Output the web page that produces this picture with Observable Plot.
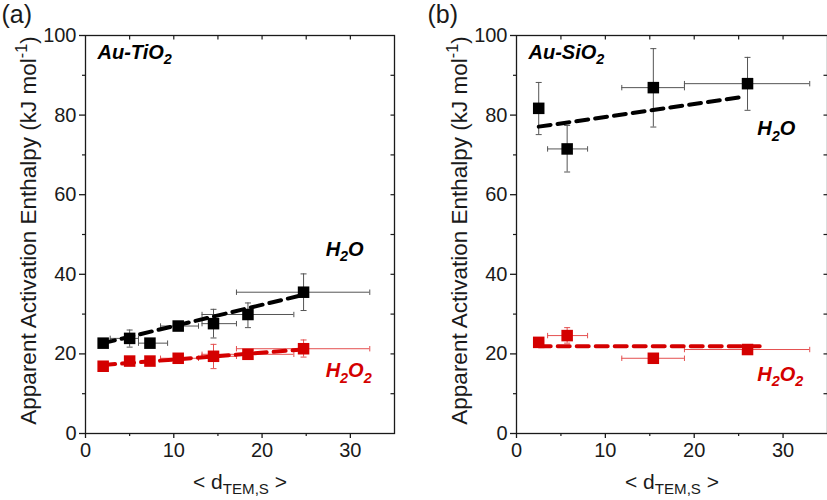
<!DOCTYPE html>
<html><head><meta charset="utf-8">
<script src="https://cdn.jsdelivr.net/npm/d3@7"></script>
<script src="https://cdn.jsdelivr.net/npm/@observablehq/plot@0.6"></script>
<style>
body{margin:0;background:#fff}
#c{display:flex;width:827px;height:500px;overflow:hidden}
#c svg{overflow:visible;flex:none}
#c text{white-space:pre}
</style>
</head><body><div id="c"></div>
<script>
// ---------- data ----------
// Panel (a) Au-TiO2
const tiH2O_d    = [2.0, 5.0, 7.3, 10.5, 14.5, 18.4, 24.7];
const tiH2O_dLo  = [2.0, 2.8, 6.0, 8.5, 13.2, 13.2, 17.1];
const tiH2O_dHi  = [2.0, 6.0, 9.3, 12.8, 17.1, 23.6, 32.2];
const tiH2O_E    = [22.7, 23.9, 22.7, 27.0, 27.6, 29.9, 35.5];
const tiH2O_ELo  = [22.7, 21.7, 22.7, 26.4, 24.0, 26.6, 30.9];
const tiH2O_EHi  = [22.7, 26.0, 22.7, 27.6, 31.2, 32.8, 40.1];
const tiH2O_fitD = [2.0, 24.6];
const tiH2O_fitE = [22.7, 34.8];

const tiH2O2_d   = [2.0, 5.0, 7.3, 10.5, 14.5, 18.4, 24.7];
const tiH2O2_dLo = [2.0, 5.0, 7.3, 8.5, 13.2, 13.2, 17.1];
const tiH2O2_dHi = [2.0, 5.0, 7.3, 12.8, 17.1, 23.6, 32.2];
const tiH2O2_E   = [16.9, 18.2, 18.2, 18.9, 19.4, 19.9, 21.3];
const tiH2O2_ELo = [16.9, 18.2, 18.2, 18.9, 16.3, 19.9, 19.2];
const tiH2O2_EHi = [16.9, 18.2, 18.2, 18.9, 22.4, 19.9, 23.5];
const tiH2O2_fitD = [2.0, 24.6];
const tiH2O2_fitE = [17.2, 21.1];

// Panel (b) Au-SiO2
const siH2O_d    = [2.5, 5.7, 15.4, 26.0];
const siH2O_dLo  = [2.5, 3.5, 11.85, 18.9];
const siH2O_dHi  = [2.5, 8.0, 18.9, 33.0];
const siH2O_E    = [81.7, 71.5, 86.9, 87.9];
const siH2O_ELo  = [75.1, 65.7, 77.0, 81.2];
const siH2O_EHi  = [88.2, 77.4, 96.7, 94.5];
const siH2O_fitD = [2.5, 25.5];
const siH2O_fitE = [77.1, 84.6];

const siH2O2_d   = [2.5, 5.7, 15.4, 26.0];
const siH2O2_dLo = [2.5, 3.5, 11.85, 18.9];
const siH2O2_dHi = [2.5, 8.0, 18.9, 33.0];
const siH2O2_E   = [22.9, 24.6, 18.9, 21.1];
const siH2O2_ELo = [22.9, 22.7, 18.9, 21.1];
const siH2O2_EHi = [22.9, 26.6, 18.9, 21.1];
const siH2O2_fitD = [2.5, 27.7];
const siH2O2_fitE = [21.9, 21.9];

// axes
const xDomain = [0, 35];
const yDomain = [0, 100];
const xMajor = [0, 10, 20, 30];
const xMinor = [5, 15, 25];
const xTop = [5, 10, 15, 20, 25, 30];
const yMajor = [0, 20, 40, 60, 80, 100];
const yMinor = [10, 30, 50, 70, 90];
const yRight = [10, 20, 30, 40, 50, 60, 70, 80, 90];
const yLabel = "Apparent Activation Enthalpy (kJ mol^{-1})";
const xLabel = "< d_{TEM,S} >";

// ---------- helpers ----------
const BLACK = "#000000", BLACK_ERR = "#555555";
const RED = "#d40000", RED_ERR = "#e45050";
const FONT = "'Liberation Sans', Arial, Helvetica, sans-serif";

function rows(d, dLo, dHi, E, ELo, EHi) {
  return d.map((v, i) => ({d: v, dLo: dLo[i], dHi: dHi[i], E: E[i], ELo: ELo[i], EHi: EHi[i]}));
}
function fitRows(d, E) { return d.map((v, i) => ({d: v, E: E[i]})); }

const hCap = {draw(ctx) { ctx.moveTo(-3, 0); ctx.lineTo(3, 0); }};
const vCap = {draw(ctx) { ctx.moveTo(0, -2.7); ctx.lineTo(0, 2.7); }};
const tickDown = {draw(ctx) { ctx.moveTo(0, 0); ctx.lineTo(0, 4); }};
const tickLeftIn = {draw(ctx) { ctx.moveTo(0, 0); ctx.lineTo(-4, 0); }};

function seriesMarks(data, fit, color, errColor) {
  return [
    Plot.ruleX(data, {x: "d", y1: "ELo", y2: "EHi", stroke: errColor, strokeWidth: 1}),
    Plot.ruleY(data, {y: "E", x1: "dLo", x2: "dHi", stroke: errColor, strokeWidth: 1}),
    Plot.dot(data, {x: "d", y: "ELo", symbol: hCap, stroke: errColor, fill: "none", strokeWidth: 1}),
    Plot.dot(data, {x: "d", y: "EHi", symbol: hCap, stroke: errColor, fill: "none", strokeWidth: 1}),
    Plot.dot(data, {x: "dLo", y: "E", symbol: vCap, stroke: errColor, fill: "none", strokeWidth: 1}),
    Plot.dot(data, {x: "dHi", y: "E", symbol: vCap, stroke: errColor, fill: "none", strokeWidth: 1}),
    Plot.line(fit, {x: "d", y: "E", stroke: color, strokeWidth: 4, strokeDasharray: "12,7"}),
    Plot.dot(data, {x: "d", y: "E", symbol: "square", r: 6.5, fill: color, stroke: "none"})
  ];
}

function panel({width, marginLeft, marginRight, tag, tagDx, name, series, labels}) {
  return Plot.plot({
    width, height: 500,
    marginTop: 35, marginBottom: 67, marginLeft, marginRight,
    x: {domain: xDomain},
    y: {domain: yDomain},
    style: {fontFamily: FONT, fontSize: "20px", color: "#1a1a1a", background: "transparent"},
    marks: [
      Plot.frame({stroke: "#1a1a1a", strokeWidth: 1.3}),
      Plot.axisX({ticks: xMajor, tickSize: 5, tickPadding: 4, label: null, strokeWidth: 1.3}),
      Plot.axisX({ticks: xMinor, tickSize: 3, tickFormat: () => "", label: null, strokeWidth: 1.2}),
      Plot.axisY({ticks: yMajor, tickSize: 6, tickPadding: 3, label: null, strokeWidth: 1.3}),
      Plot.axisY({ticks: yMinor, tickSize: 3, tickFormat: () => "", label: null, strokeWidth: 1.2}),
      Plot.dot(xTop, {x: d => d, frameAnchor: "top", symbol: tickDown, stroke: "#1a1a1a", fill: "none", strokeWidth: 1.2}),
      Plot.dot(yRight, {y: d => d, frameAnchor: "right", symbol: tickLeftIn, stroke: "#1a1a1a", fill: "none", strokeWidth: 1.2}),
      ...series,
      Plot.text([name], {frameAnchor: "top-left", text: d => d, textAnchor: "start", lineAnchor: "bottom", dx: 12, dy: 23, fontSize: 20, fontWeight: "bold", fontStyle: "italic", fill: "#000"}),
      ...labels.map(l => Plot.text([l.t], {x: () => l.x, y: () => l.y, text: d => d, textAnchor: "start", lineAnchor: "bottom", fontSize: 20, fontWeight: "bold", fontStyle: "italic", fill: l.c})),
      Plot.text([yLabel], {frameAnchor: "left", text: d => d, rotate: -90, textAnchor: "middle", lineAnchor: "middle", dx: -57, dy: -4, fontSize: 22.5, fill: "#1a1a1a"}),
      Plot.text([xLabel], {frameAnchor: "bottom", text: d => d, textAnchor: "middle", lineAnchor: "bottom", dy: 55, fontSize: 21, fill: "#1a1a1a"}),
      Plot.text([tag], {frameAnchor: "top-left", text: d => d, textAnchor: "start", lineAnchor: "bottom", dx: tagDx, dy: -13, fontSize: 25, fill: "#1a1a1a"})
    ]
  });
}

function richify(svg) {
  d3.select(svg).selectAll("text").each(function() {
    const el = this;
    const s = el.textContent;
    if (!/[_^]\{/.test(s) || el.querySelector("tspan")) return;
    const fs = parseFloat(getComputedStyle(el).fontSize) || 20;
    const parts = s.split(/(_\{[^}]*\}|\^\{[^}]*\})/).filter(p => p.length);
    el.textContent = "";
    let shift = 0;
    for (const p of parts) {
      const ts = document.createElementNS("http://www.w3.org/2000/svg", "tspan");
      let target = 0, txt = p;
      if (p.startsWith("_{")) { target = 0.28 * fs; txt = p.slice(2, -1); ts.setAttribute("font-size", (0.72 * fs).toFixed(1)); }
      else if (p.startsWith("^{")) { target = -0.4 * fs; txt = p.slice(2, -1); ts.setAttribute("font-size", (0.72 * fs).toFixed(1)); }
      ts.setAttribute("dy", (target - shift).toFixed(2));
      shift = target;
      ts.textContent = txt;
      el.appendChild(ts);
    }
  });
}

const container = document.getElementById("c");

const svgA = panel({
  width: 430, marginLeft: 85, marginRight: 36, tag: "(a)", tagDx: -84, name: "Au-TiO_{2}",
  series: [
    ...seriesMarks(rows(tiH2O_d, tiH2O_dLo, tiH2O_dHi, tiH2O_E, tiH2O_ELo, tiH2O_EHi), fitRows(tiH2O_fitD, tiH2O_fitE), BLACK, BLACK_ERR),
    ...seriesMarks(rows(tiH2O2_d, tiH2O2_dLo, tiH2O2_dHi, tiH2O2_E, tiH2O2_ELo, tiH2O2_EHi), fitRows(tiH2O2_fitD, tiH2O2_fitE), RED, RED_ERR)
  ],
  labels: [
    {t: "H_{2}O", x: 27.2, y: 44.7, c: "#000"},
    {t: "H_{2}O_{2}", x: 27.2, y: 14.1, c: RED}
  ]
});
const svgB = panel({
  width: 397, marginLeft: 86, marginRight: 0, tag: "(b)", tagDx: -89, name: "Au-SiO_{2}",
  series: [
    ...seriesMarks(rows(siH2O_d, siH2O_dLo, siH2O_dHi, siH2O_E, siH2O_ELo, siH2O_EHi), fitRows(siH2O_fitD, siH2O_fitE), BLACK, BLACK_ERR),
    ...seriesMarks(rows(siH2O2_d, siH2O2_dLo, siH2O2_dHi, siH2O2_E, siH2O2_ELo, siH2O2_EHi), fitRows(siH2O2_fitD, siH2O2_fitE), RED, RED_ERR)
  ],
  labels: [
    {t: "H_{2}O", x: 27.1, y: 74.9, c: "#000"},
    {t: "H_{2}O_{2}", x: 27.1, y: 13.3, c: RED}
  ]
});
container.appendChild(svgA);
container.appendChild(svgB);
richify(svgA);
richify(svgB);
</script>
</body></html>
